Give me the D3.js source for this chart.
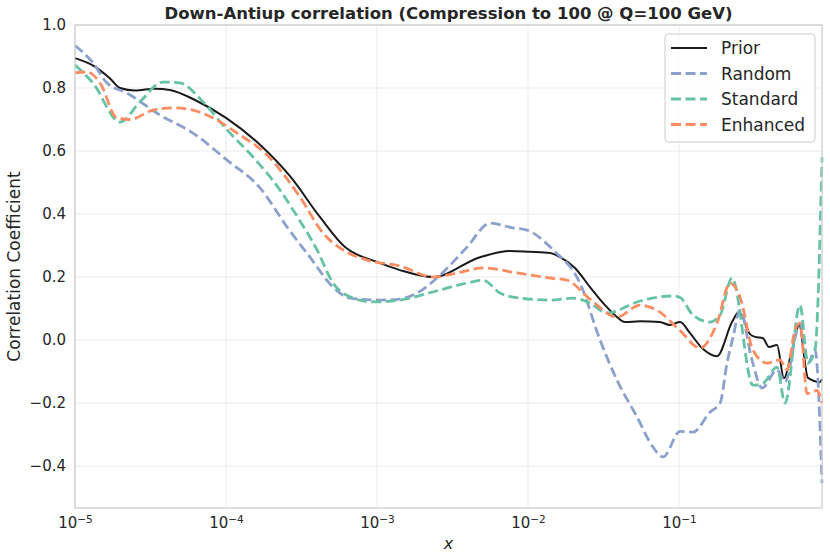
<!DOCTYPE html>
<html>
<head>
<meta charset="utf-8">
<title>Down-Antiup correlation</title>
<script src="https://cdnjs.cloudflare.com/ajax/libs/d3/7.8.5/d3.min.js"></script>
<style>
    body { margin: 0; background: #fff; }
    svg text { font-family: "DejaVu Sans", sans-serif; fill: #262626; }
    .grid line { stroke: #ebebeb; stroke-width: 1; }
    .series { fill: none; stroke-linejoin: round; }
</style>
</head>
<body>
<script>
// values; x is stored as log10(x)
var priorLogX = [-5, -4.868, -4.768, -4.702, -4.603, -4.470, -4.371, -4.205, -4.0, -3.775,
    -3.576, -3.377, -3.212, -3.0, -2.848, -2.629, -2.318, -2.119, -1.987, -1.854,
    -1.788, -1.689, -1.589, -1.490, -1.424, -1.358, -1.258, -1.126, -1.060, -0.993,
    -0.927, -0.848, -0.748, -0.649, -0.603, -0.530, -0.497, -0.444, -0.404, -0.351,
    -0.305, -0.252, -0.205, -0.146, -0.066, -0.053];
var priorY = [0.895, 0.868, 0.83, 0.80, 0.792, 0.798, 0.794, 0.762, 0.705, 0.62,
    0.52, 0.39, 0.295, 0.248, 0.222, 0.20, 0.263, 0.283, 0.28, 0.276,
    0.263, 0.229, 0.168, 0.111, 0.079, 0.057, 0.06, 0.057, 0.048, 0.057,
    0.022, -0.025, -0.051, 0.057, 0.089, 0.019, 0.01, 0.006, -0.022, -0.016,
    -0.121, -0.032, 0.048, -0.12, -0.133, -0.124];

var randomLogX = [-5, -4.881, -4.788, -4.656, -4.437, -4.219, -3.993, -3.775, -3.596, -3.444,
    -3.291, -3.179, -2.980, -2.848, -2.735, -2.583, -2.404, -2.252, -2.099, -2.007,
    -1.834, -1.656, -1.523, -1.411, -1.278, -1.172, -1.106, -0.993, -0.907, -0.795,
    -0.728, -0.682, -0.642, -0.596, -0.517, -0.450, -0.351, -0.298, -0.199, -0.146,
    -0.099, -0.053];
var randomY = [0.935, 0.88, 0.816, 0.784, 0.714, 0.657, 0.571, 0.483, 0.359, 0.263,
    0.168, 0.133, 0.127, 0.13, 0.149, 0.206, 0.295, 0.371, 0.356, 0.349,
    0.286, 0.181, 0.0, -0.127, -0.244, -0.34, -0.371, -0.29, -0.292, -0.229,
    -0.2, -0.073, 0.01, 0.095, -0.063, -0.152, -0.095, -0.133, 0.054, -0.073,
    -0.032, -0.454];

var standardLogX = [-5, -4.881, -4.702, -4.570, -4.417, -4.305, -4.152, -3.993, -3.821, -3.642,
    -3.556, -3.397, -3.291, -3.179, -3.026, -2.848, -2.583, -2.404, -2.298, -2.185,
    -2.053, -1.854, -1.702, -1.589, -1.477, -1.258, -1.040, -0.993, -0.907, -0.795,
    -0.728, -0.649, -0.510, -0.444, -0.351, -0.298, -0.199, -0.146, -0.099, -0.053];
var standardY = [0.873, 0.816, 0.692, 0.756, 0.819, 0.816, 0.756, 0.667, 0.581, 0.476,
    0.413, 0.286, 0.181, 0.137, 0.121, 0.127, 0.159, 0.181, 0.19, 0.149,
    0.133, 0.127, 0.133, 0.117, 0.086, 0.124, 0.14, 0.135, 0.079, 0.057,
    0.079, 0.197, -0.143, -0.137, -0.086, -0.2, 0.111, -0.073, -0.03, 0.58];

var enhancedLogX = [-5, -4.921, -4.834, -4.722, -4.636, -4.483, -4.351, -4.219, -4.086, -3.927,
    -3.728, -3.510, -3.358, -3.225, -3.066, -2.848, -2.629, -2.470, -2.298, -2.073,
    -1.854, -1.742, -1.589, -1.411, -1.258, -1.146, -0.993, -0.861, -0.748, -0.662,
    -0.596, -0.510, -0.417, -0.331, -0.285, -0.232, -0.199, -0.152, -0.086, -0.053];
var enhancedY = [0.848, 0.851, 0.816, 0.705, 0.70, 0.73, 0.737, 0.73, 0.705, 0.657,
    0.587, 0.454, 0.34, 0.286, 0.254, 0.235, 0.2, 0.213, 0.229, 0.213,
    0.197, 0.19, 0.13, 0.073, 0.111, 0.095, 0.03, -0.025, 0.054, 0.181,
    0.137, -0.032, -0.073, -0.063, -0.095, 0.032, 0.054, -0.17, -0.16, -0.2];

var seriesNames = ["Prior", "Random", "Standard", "Enhanced"];
var xTicks = [1e-5, 1e-4, 1e-3, 1e-2, 1e-1];
var xTickExp = ["\u22125", "\u22124", "\u22123", "\u22122", "\u22121"];
var yTicks = [-0.4, -0.2, 0.0, 0.2, 0.4, 0.6, 0.8, 1.0];

var series = [
    {name: seriesNames[0], lx: priorLogX, y: priorY, color: "#1a1a1a", width: 2, dash: null},
    {name: seriesNames[1], lx: randomLogX, y: randomY, color: "#8da0cb", width: 2.8, dash: "10,4.5"},
    {name: seriesNames[2], lx: standardLogX, y: standardY, color: "#66c2a5", width: 2.8, dash: "10,4.5"},
    {name: seriesNames[3], lx: enhancedLogX, y: enhancedY, color: "#fc8d62", width: 2.8, dash: "10,4.5"}
];

var W = 830, H = 559;
// plot area edges (note: "top" is reserved on window, so prefixed names)
var pLeft = 75, pRight = 822, pTop = 25, pBottom = 508;

var svg = d3.select("body").append("svg")
    .attr("width", W)
    .attr("height", H);

var x = d3.scaleLog().domain([1e-5, 0.885]).range([pLeft, pRight]);
var y = d3.scaleLinear().domain([-0.533, 1.0]).range([pBottom, pTop]);

// grid
var grid = svg.append("g").attr("class", "grid");
grid.selectAll("line.v").data(xTicks).enter().append("line")
    .attr("x1", d => x(d)).attr("x2", d => x(d))
    .attr("y1", pTop).attr("y2", pBottom);
grid.selectAll("line.h").data(yTicks).enter().append("line")
    .attr("x1", pLeft).attr("x2", pRight)
    .attr("y1", d => y(d)).attr("y2", d => y(d));

// lines
var line = d3.line()
    .x(d => x(Math.pow(10, d[0])))
    .y(d => y(d[1]))
    .curve(d3.curveMonotoneX);

var plot = svg.append("g");
series.forEach(function(s) {
    var pts = s.lx.map((v, i) => [v, s.y[i]]);
    plot.append("path")
        .attr("class", "series")
        .attr("d", line(pts))
        .attr("stroke", s.color)
        .attr("stroke-width", s.width)
        .attr("stroke-dasharray", s.dash);
});

// frame
svg.append("rect")
    .attr("x", pLeft).attr("y", pTop)
    .attr("width", pRight - pLeft).attr("height", pBottom - pTop)
    .attr("fill", "none")
    .attr("stroke", "#cccccc")
    .attr("stroke-width", 1.25);

// axes
var xAxis = svg.append("g")
    .attr("transform", "translate(0," + pBottom + ")")
    .call(d3.axisBottom(x).tickValues(xTicks).tickSize(0).tickPadding(9).tickFormat(""));
xAxis.select(".domain").remove();
xAxis.selectAll(".tick text").each(function(d, i) {
    var t = d3.select(this).attr("fill", null).style("font-size", "15px");
    t.append("tspan").text("10");
    t.append("tspan").text(xTickExp[i]).attr("dy", "-0.45em").style("font-size", "10.5px");
});

var yAxis = svg.append("g")
    .attr("transform", "translate(" + pLeft + ",0)")
    .call(d3.axisLeft(y).tickValues(yTicks).tickSize(0).tickPadding(9)
        .tickFormat(d => d3.format(".1f")(d).replace("-", "\u2212")));
yAxis.select(".domain").remove();
yAxis.selectAll(".tick text").attr("fill", null).style("font-size", "15px");

// titles
svg.append("text")
    .attr("x", (pLeft + pRight) / 2).attr("y", 19)
    .attr("text-anchor", "middle")
    .style("font-size", "16.5px").style("font-weight", "bold")
    .text("Down-Antiup correlation (Compression to 100 @ Q=100 GeV)");

svg.append("text")
    .attr("x", (pLeft + pRight) / 2).attr("y", 549)
    .attr("text-anchor", "middle")
    .style("font-size", "16px").style("font-style", "italic")
    .text("x");

svg.append("text")
    .attr("transform", "translate(20," + ((pTop + pBottom) / 2) + ") rotate(-90)")
    .attr("text-anchor", "middle")
    .style("font-size", "17px")
    .text("Correlation Coefficient");

// legend
var lg = svg.append("g").attr("transform", "translate(665,34)");
lg.append("rect")
    .attr("width", 150).attr("height", 108).attr("rx", 3)
    .attr("fill", "#fff").attr("fill-opacity", 0.8)
    .attr("stroke", "#cccccc").attr("stroke-width", 1);
series.forEach(function(s, i) {
    var ry = 14 + i * 25.5;
    lg.append("line")
        .attr("x1", 6).attr("x2", 42)
        .attr("y1", ry).attr("y2", ry)
        .attr("stroke", s.color)
        .attr("stroke-width", s.width)
        .attr("stroke-dasharray", s.dash);
    lg.append("text")
        .attr("x", 56).attr("y", ry + 6)
        .style("font-size", "17px")
        .text(s.name);
});
</script>
</body>
</html>
